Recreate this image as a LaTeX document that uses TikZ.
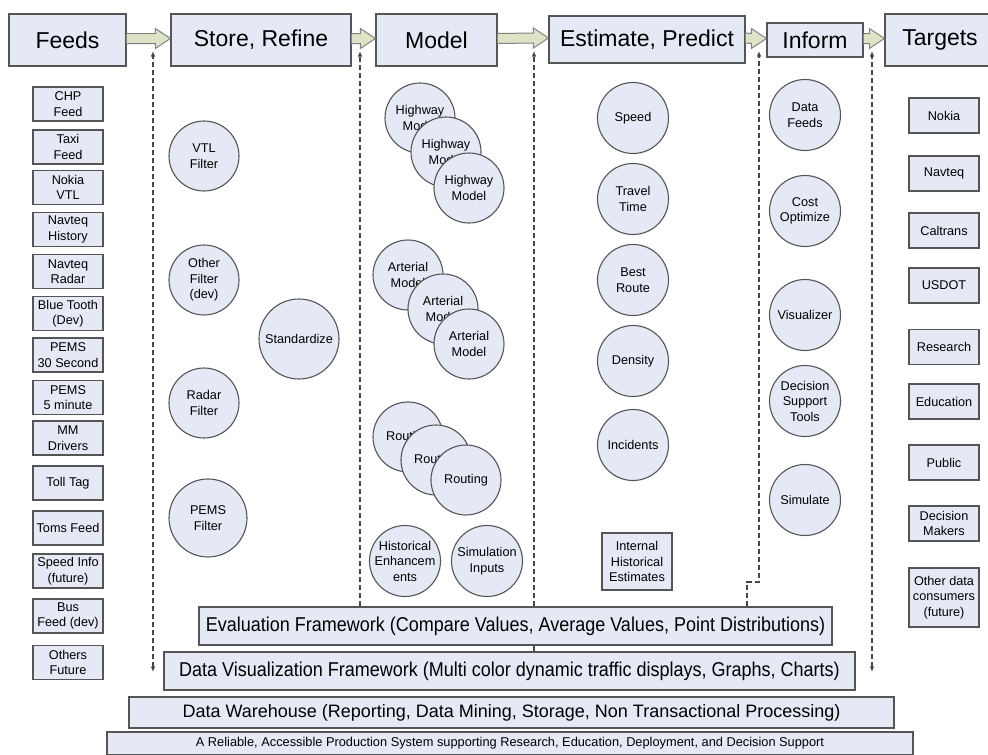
\documentclass[tikz,border=0pt]{standalone}
\usepackage{fontspec}
\setmainfont{Liberation Sans}
\newfontfamily\narrowsans[FakeStretch=0.9]{Liberation Sans}
\usetikzlibrary{arrows.meta,calc}
\definecolor{boxfill}{RGB}{228,233,245}
\definecolor{boxline}{RGB}{85,85,85}
\definecolor{flowfill}{RGB}{221,227,198}
\definecolor{flowline}{RGB}{130,130,130}
\definecolor{linkgray}{RGB}{70,70,70}
\begin{document}
\begin{tikzpicture}[x=1pt, y=-1pt]
    \tikzset{
      hdr/.style={draw=boxline, fill=boxfill, line width=1.2pt, inner sep=0pt,
        font=\fontsize{23}{27}\selectfont},
      unitbox/.style={draw=boxline, fill=boxfill, line width=1.2pt, inner sep=1pt,
        align=center, minimum width=70pt, minimum height=34pt,
        font=\fontsize{12.7}{15.5}\selectfont},
      proc/.style={circle, draw=boxline, fill=boxfill, line width=1.1pt, inner sep=0pt,
        align=center, minimum size=70pt, font=\fontsize{12.7}{15.5}\selectfont},
      bar/.style={draw=boxline, fill=boxfill, line width=1.2pt, inner sep=0pt},
      flowarrow/.style={draw=flowline, fill=flowfill, line width=1pt, line join=miter},
      dashlink/.style={draw=linkgray, line width=1.1pt, dash pattern=on 5pt off 3pt},
      linktip/.style={-{Latex[length=5.5pt,width=4.5pt]}},
    }
    \useasboundingbox (0,0) rectangle (988,755);

    % stage headers
    \node[hdr, minimum width=117pt, minimum height=52pt] (feeds) at (67.5,40) {Feeds};
    \node[hdr, minimum width=180pt, minimum height=52pt] (store) at (261,40) {Store, Refine};
    \node[hdr, minimum width=121pt, minimum height=52pt] (model) at (436.5,40) {Model};
    \node[hdr, minimum width=196pt, minimum height=47pt] (estim) at (647,39.5) {Estimate, Predict};
    \node[hdr, minimum width=96pt, minimum height=34pt] (inform) at (815,40) {Inform};
    \node[hdr, minimum width=110pt, minimum height=52pt] (targets) at (940,40) {Targets};

    \foreach \a/\b in {feeds/store, store/model, model/estim, estim/inform, inform/targets} {
      \path (\a.east) ++(0,-1.5) coordinate (s) (\b.west) ++(0,-1.5) coordinate (t);
      \draw[flowarrow] ($(s)+(0,-5)$) -- ($(t)+(-15,-5)$) -- ($(t)+(-15,-10)$) -- (t)
        -- ($(t)+(-15,10)$) -- ($(t)+(-15,5)$) -- ($(s)+(0,5)$);
    }

    % feeds
    \node[unitbox] (feed-1) at (68,104) {CHP\\Feed};
    \node[unitbox] (feed-2) at (68,147) {Taxi\\Feed};
    \node[unitbox] (feed-3) at (68,187.5) {Nokia\\VTL};
    \node[unitbox] (feed-4) at (68,229.5) {Navteq\\History};
    \node[unitbox] (feed-5) at (68,271.5) {Navteq\\Radar};
    \node[unitbox] (feed-6) at (68,313.5) {Blue Tooth\\(Dev)};
    \node[unitbox] (feed-7) at (68,355) {PEMS\\30 Second};
    \node[unitbox] (feed-8) at (68,397.5) {PEMS\\5 minute};
    \node[unitbox] (feed-9) at (68,438) {MM\\Drivers};
    \node[unitbox] (feed-10) at (68,483) {Toll Tag};
    \node[unitbox] (feed-11) at (68,528) {Toms Feed};
    \node[unitbox] (feed-12) at (68,571) {Speed Info\\(future)};
    \node[unitbox] (feed-13) at (68,616) {Bus\\Feed (dev)};
    \node[unitbox] (feed-14) at (68,662.5) {Others\\Future};

    % store, refine
    \node[proc] (vtl) at (204,156) {VTL\\Filter};
    \node[proc] (otherf) at (204,280) {Other\\Filter\\(dev)};
    \node[proc, minimum size=80pt] (stdz) at (299,339) {Standardize};
    \node[proc] (radar) at (204,403) {Radar\\Filter};
    \node[proc, minimum size=78pt] (pems) at (208,518) {PEMS\\Filter};

    % model
    \node[proc] (hwy-1) at (420,118) {Highway\\Model};
    \node[proc] (hwy-2) at (446,152) {Highway\\Model};
    \node[proc] (hwy-3) at (469,188) {Highway\\Model};
    \node[proc] (art-1) at (408,275) {Arterial\\Model};
    \node[proc] (art-2) at (443,309) {Arterial\\Model};
    \node[proc] (art-3) at (469,344) {Arterial\\Model};
    \foreach \k/\xx/\yy in {1/408/437, 2/436/460, 3/466/480}
      { \node[proc] (rout-\k) at (\xx,\yy) {Routing}; }
    \node[proc, minimum size=71pt, inner sep=-2pt] (hist) at (405,561) {Historical\\Enhancem\\ents};
    \node[proc, minimum size=71pt] (siminp) at (487,561) {Simulation\\Inputs};

    % estimate, predict
    \node[proc, minimum size=71pt] (est-1) at (633,118) {Speed};
    \node[proc, minimum size=71pt] (est-2) at (633,199) {Travel\\Time};
    \node[proc, minimum size=71pt] (est-3) at (633,280) {Best\\Route};
    \node[proc, minimum size=71pt] (est-4) at (633,361) {Density};
    \node[proc, minimum size=71pt] (est-5) at (633,445) {Incidents};
    \node[unitbox, minimum height=57pt] (ihe) at (637,561.5) {Internal\\Historical\\Estimates};

    % inform
    \node[proc, minimum size=71pt] (inf-1) at (805,115) {Data\\Feeds};
    \node[proc, minimum size=71pt] (inf-2) at (805,211) {Cost\\Optimize};
    \node[proc, minimum size=71pt] (inf-3) at (805,315) {Visualizer};
    \node[proc, minimum size=71pt] (inf-4) at (805,401) {Decision\\Support\\Tools};
    \node[proc, minimum size=71pt] (inf-5) at (805,500) {Simulate};

    % targets
    \node[unitbox, minimum height=35pt] (tgt-1) at (944,115.5) {Nokia};
    \node[unitbox, minimum height=35pt] (tgt-2) at (944,173.5) {Navteq};
    \node[unitbox, minimum height=35pt] (tgt-3) at (944,230.5) {Caltrans};
    \node[unitbox, minimum height=35pt] (tgt-4) at (944,285.5) {USDOT};
    \node[unitbox, minimum height=35pt] (tgt-5) at (944,347) {Research};
    \node[unitbox, minimum height=35pt] (tgt-6) at (944,401.5) {Education};
    \node[unitbox, minimum height=35pt] (tgt-7) at (944,462.5) {Public};
    \node[unitbox, minimum height=35pt] (tgt-8) at (944,523.5) {Decision\\Makers};
    \node[unitbox, minimum height=59pt] (tgt-9) at (944,597.5) {Other data\\consumers\\(future)};

    % frameworks
    \node[bar, minimum width=633pt, minimum height=38pt, font=\narrowsans\fontsize{20}{24}\selectfont]
      (evalfw) at (515.5,626) {Evaluation Framework (Compare Values, Average Values, Point Distributions)};
    \node[bar, minimum width=691pt, minimum height=38pt, font=\narrowsans\fontsize{20}{24}\selectfont]
      (vizfw) at (509.5,671) {Data Visualization Framework (Multi color dynamic traffic displays, Graphs, Charts)};
    \node[bar, minimum width=765pt, minimum height=31pt, font=\fontsize{18}{22}\selectfont]
      (dwh) at (511.5,712.5) {Data Warehouse (Reporting, Data Mining, Storage, Non Transactional Processing)};
    \node[bar, minimum width=806pt, minimum height=23pt, font=\fontsize{12.8}{15}\selectfont]
      (prod) at (510,743.5) {A Reliable, Accessible Production System supporting Research, Education, Deployment, and Decision Support};

    % feedback links
    \coordinate (up-1) at (153,51);
    \coordinate (up-2) at (360,51);
    \coordinate (up-3) at (534,51);
    \coordinate (up-4) at (759,51);
    \coordinate (up-5) at (872,51);
    \coordinate (dn-1) at (153,672);
    \coordinate (dn-5) at (872,672);
    \coordinate (jog) at (747,582);
    \draw[dashlink, {Latex[length=5.5pt,width=4.5pt]}-{Latex[length=5.5pt,width=4.5pt]}] (dn-1) -- (up-1);
    \draw[dashlink, {Latex[length=5.5pt,width=4.5pt]}-{Latex[length=5.5pt,width=4.5pt]}] (dn-5) -- (up-5);
    \draw[dashlink, linktip] (evalfw.north -| up-2) -- (up-2);
    \draw[dashlink, linktip] (evalfw.north -| up-3) -- (up-3);
    \draw[dashlink, linktip] (evalfw.north -| jog) -- (jog) -| (up-4);
    \draw[dashlink] (evalfw.south -| up-3) -- (vizfw.north -| up-3);
  \end{tikzpicture}
\end{document}
